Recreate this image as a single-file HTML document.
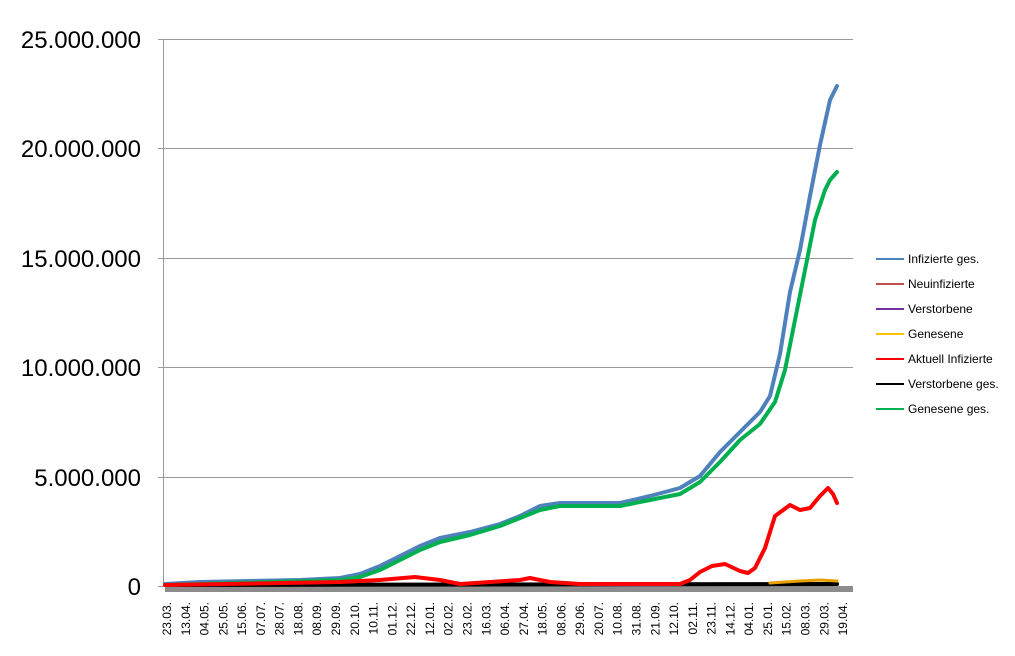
<!DOCTYPE html>
<html><head><meta charset="utf-8"><style>
body{margin:0;background:#fff;}
svg{display:block;font-family:"Liberation Sans",sans-serif;}
</style></head><body>
<svg width="1015" height="656" viewBox="0 0 1015 656" xmlns="http://www.w3.org/2000/svg">
<g stroke="#999" stroke-width="1">
<line x1="158" y1="39.5" x2="853" y2="39.5"/>
<line x1="158" y1="148.5" x2="853" y2="148.5"/>
<line x1="158" y1="258.5" x2="853" y2="258.5"/>
<line x1="158" y1="367.5" x2="853" y2="367.5"/>
<line x1="158" y1="477.5" x2="853" y2="477.5"/>
<line x1="158" y1="586.5" x2="163" y2="586.5"/>
<line x1="163.5" y1="39" x2="163.5" y2="586"/>
</g>
<rect x="165" y="586" width="688" height="6" fill="#8c8c8c"/>
<g font-size="24" text-anchor="end" fill="#000">
<text x="141" y="48">25.000.000</text>
<text x="141" y="157">20.000.000</text>
<text x="141" y="267">15.000.000</text>
<text x="141" y="376">10.000.000</text>
<text x="141" y="486">5.000.000</text>
<text x="141" y="595">0</text>
</g>
<g fill="none" stroke-linejoin="round" stroke-linecap="round">
<polyline stroke="#000" stroke-width="4" points="165,585 837,584"/>
<polyline stroke="#e8a000" stroke-width="3" points="770,583 800,581 820,580 837,581"/>
<polyline stroke="#4f81bd" stroke-width="4" points="165,584 200,582 300,580 340,578 360,574 380,566 400,556 420,546 440,538 470,532 500,524 520,516 540,506 560,503 620,503 650,496 680,488 700,476 720,452 740,432 760,412 770,396 780,354 790,292 800,250 810,196 820,145 830,100 837,86"/>
<polyline stroke="#00b050" stroke-width="4" points="165,585 340,580 360,577 380,570 400,560 420,550 440,542 470,535 500,526 520,518 540,510 560,506 620,506 650,500 680,494 700,482 720,462 740,440 760,424 775,402 785,370 795,320 805,270 815,220 825,190 830,180 837,172"/>
<polyline stroke="#ff0000" stroke-width="4" points="165,585 340,582 380,580 415,577 440,580 460,584 520,580 530,578 550,582 580,584 680,584 690,580 700,572 712,566 725,564 740,571 748,573 755,568 765,548 775,516 790,505 800,510 810,508 820,496 828,488 833,494 837,503"/>
</g>
<g font-size="12" fill="#000">
<line x1="876" y1="259" x2="904" y2="259" stroke="#4f81bd" stroke-width="2"/><text x="908" y="263">Infizierte ges.</text>
<line x1="876" y1="284" x2="904" y2="284" stroke="#c0504d" stroke-width="2"/><text x="908" y="288">Neuinfizierte</text>
<line x1="876" y1="309" x2="904" y2="309" stroke="#7030a0" stroke-width="2"/><text x="908" y="313">Verstorbene</text>
<line x1="876" y1="334" x2="904" y2="334" stroke="#ffc000" stroke-width="2"/><text x="908" y="338">Genesene</text>
<line x1="876" y1="359" x2="904" y2="359" stroke="#ff0000" stroke-width="2"/><text x="908" y="363">Aktuell Infizierte</text>
<line x1="876" y1="384" x2="904" y2="384" stroke="#000" stroke-width="2"/><text x="908" y="388">Verstorbene ges.</text>
<line x1="876" y1="409" x2="904" y2="409" stroke="#00b050" stroke-width="2"/><text x="908" y="413">Genesene ges.</text>
</g>
<g font-size="12" fill="#000" text-anchor="end">
<text transform="translate(171.0,602) rotate(-90)">23.03.</text>
<text transform="translate(189.8,602) rotate(-90)">13.04.</text>
<text transform="translate(208.6,602) rotate(-90)">04.05.</text>
<text transform="translate(227.3,602) rotate(-90)">25.05.</text>
<text transform="translate(246.1,602) rotate(-90)">15.06.</text>
<text transform="translate(264.9,602) rotate(-90)">07.07.</text>
<text transform="translate(283.7,602) rotate(-90)">28.07.</text>
<text transform="translate(302.5,602) rotate(-90)">18.08.</text>
<text transform="translate(321.2,602) rotate(-90)">08.09.</text>
<text transform="translate(340.0,602) rotate(-90)">29.09.</text>
<text transform="translate(358.8,602) rotate(-90)">20.10.</text>
<text transform="translate(377.6,602) rotate(-90)">10.11.</text>
<text transform="translate(396.4,602) rotate(-90)">01.12.</text>
<text transform="translate(415.1,602) rotate(-90)">22.12.</text>
<text transform="translate(433.9,602) rotate(-90)">12.01.</text>
<text transform="translate(452.7,602) rotate(-90)">02.02.</text>
<text transform="translate(471.5,602) rotate(-90)">23.02.</text>
<text transform="translate(490.3,602) rotate(-90)">16.03.</text>
<text transform="translate(509.0,602) rotate(-90)">06.04.</text>
<text transform="translate(527.8,602) rotate(-90)">27.04.</text>
<text transform="translate(546.6,602) rotate(-90)">18.05.</text>
<text transform="translate(565.4,602) rotate(-90)">08.06.</text>
<text transform="translate(584.2,602) rotate(-90)">29.06.</text>
<text transform="translate(602.9,602) rotate(-90)">20.07.</text>
<text transform="translate(621.7,602) rotate(-90)">10.08.</text>
<text transform="translate(640.5,602) rotate(-90)">31.08.</text>
<text transform="translate(659.3,602) rotate(-90)">21.09.</text>
<text transform="translate(678.1,602) rotate(-90)">12.10.</text>
<text transform="translate(696.8,602) rotate(-90)">02.11.</text>
<text transform="translate(715.6,602) rotate(-90)">23.11.</text>
<text transform="translate(734.4,602) rotate(-90)">14.12.</text>
<text transform="translate(753.2,602) rotate(-90)">04.01.</text>
<text transform="translate(772.0,602) rotate(-90)">25.01.</text>
<text transform="translate(790.7,602) rotate(-90)">15.02.</text>
<text transform="translate(809.5,602) rotate(-90)">08.03.</text>
<text transform="translate(828.3,602) rotate(-90)">29.03.</text>
<text transform="translate(847.1,602) rotate(-90)">19.04.</text>
</g>
</svg>
</body></html>
